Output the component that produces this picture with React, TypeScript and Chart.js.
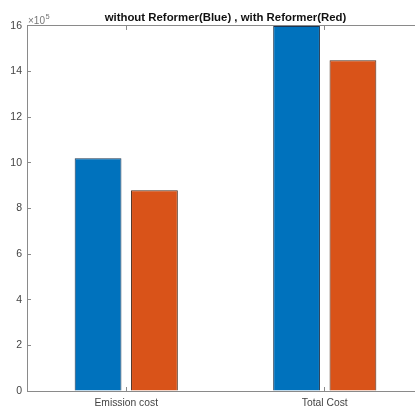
import React, { useEffect, useRef } from "react";
import { Chart, registerables } from "chart.js";

Chart.register(...registerables);

const categories = ["Emission cost", "Total Cost"];
const withoutReformer = [1020000, 1600000];
const withReformer = [880000, 1450000];
const yTicks = [0, 2, 4, 6, 8, 10, 12, 14, 16];
const titleText = "without Reformer(Blue) , with Reformer(Red)";

const FONT = "'Liberation Sans', Arial, Helvetica, sans-serif";
const AXIS = "#8a8a8a";
const TEXT = "#444444";

const exponentPlugin = {
  id: "exponentLabel",
  afterDraw(chart: any) {
    const { ctx, chartArea } = chart;
    ctx.save();
    ctx.fillStyle = "#777777";
    ctx.textBaseline = "alphabetic";
    ctx.textAlign = "left";
    ctx.font = `10px ${FONT}`;
    const x = chartArea.left + 1;
    const y = chartArea.top - 2;
    ctx.fillText("×10", x, y);
    const w = ctx.measureText("×10").width;
    ctx.font = `7.5px ${FONT}`;
    ctx.fillText("5", x + w + 0.5, y - 4.5);
    ctx.restore();
  },
};

export default function App() {
  const ref = useRef<HTMLCanvasElement | null>(null);

  useEffect(() => {
    if (!ref.current) return;
    const chart = new Chart(ref.current, {
      type: "bar",
      data: {
        labels: categories,
        datasets: [
          {
            label: "without Reformer",
            data: withoutReformer,
            backgroundColor: "#0072BD",
            borderColor: "#1c3550",
            borderWidth: 1,
            categoryPercentage: 0.568,
            barPercentage: 0.83,
          },
          {
            label: "with Reformer",
            data: withReformer,
            backgroundColor: "#D95319",
            borderColor: "#4a2a1a",
            borderWidth: 1,
            categoryPercentage: 0.568,
            barPercentage: 0.83,
          },
        ],
      },
      options: {
        animation: false,
        responsive: false,
        maintainAspectRatio: false,
        layout: { padding: 0 },
        plugins: {
          legend: { display: false },
          tooltip: { enabled: false },
          title: {
            display: true,
            text: titleText,
            color: "#111",
            font: { family: FONT, size: 11.4, weight: "bold", lineHeight: 1.2 },
            padding: { top: 11, bottom: 1.3 },
          },
        },
        scales: {
          x: {
            type: "category",
            position: "bottom",
            offset: true,
            grid: {
              offset: false,
              drawOnChartArea: false,
              drawTicks: true,
              tickLength: -4,
              color: AXIS,
            },
            border: { display: true, color: AXIS, width: 1 },
            ticks: {
              color: TEXT,
              font: { family: FONT, size: 10.3 },
              padding: 10,
              maxRotation: 0,
              autoSkip: false,
            },
            afterFit: (s: any) => {
              s.height = 18;
            },
          },
          x2: {
            type: "category",
            position: "top",
            offset: true,
            grid: {
              offset: false,
              drawOnChartArea: false,
              drawTicks: true,
              tickLength: -4,
              color: AXIS,
            },
            border: { display: true, color: AXIS, width: 1 },
            ticks: { display: false },
            afterFit: (s: any) => {
              s.height = 0;
            },
          },
          y: {
            type: "linear",
            position: "left",
            min: 0,
            max: 1600000,
            afterBuildTicks: (s: any) => {
              s.ticks = yTicks.map((v) => ({ value: v * 100000 }));
            },
            grid: {
              drawOnChartArea: false,
              drawTicks: true,
              tickLength: -4,
              color: AXIS,
            },
            border: { display: true, color: AXIS, width: 1 },
            ticks: {
              color: TEXT,
              font: { family: FONT, size: 10.5 },
              padding: 9,
              callback: (v: any) => String(Number(v) / 100000),
            },
            afterFit: (s: any) => {
              s.width = 27;
            },
          },
          y2: {
            type: "linear",
            position: "right",
            min: 0,
            max: 1600000,
            afterBuildTicks: (s: any) => {
              s.ticks = yTicks.map((v) => ({ value: v * 100000 }));
            },
            grid: {
              drawOnChartArea: false,
              drawTicks: true,
              tickLength: -4,
              color: AXIS,
            },
            border: { display: false },
            ticks: { display: false },
            afterFit: (s: any) => {
              s.width = 27;
            },
          },
        },
      } as any,
      plugins: [exponentPlugin],
    });
    return () => chart.destroy();
  }, []);

  return (
    <div
      style={{
        position: "absolute",
        left: 0,
        top: 0,
        width: 415,
        height: 409,
        overflow: "hidden",
        background: "#fff",
      }}
    >
      <canvas ref={ref} width={451} height={409} style={{ width: 451, height: 409, display: "block" }} />
    </div>
  );
}
